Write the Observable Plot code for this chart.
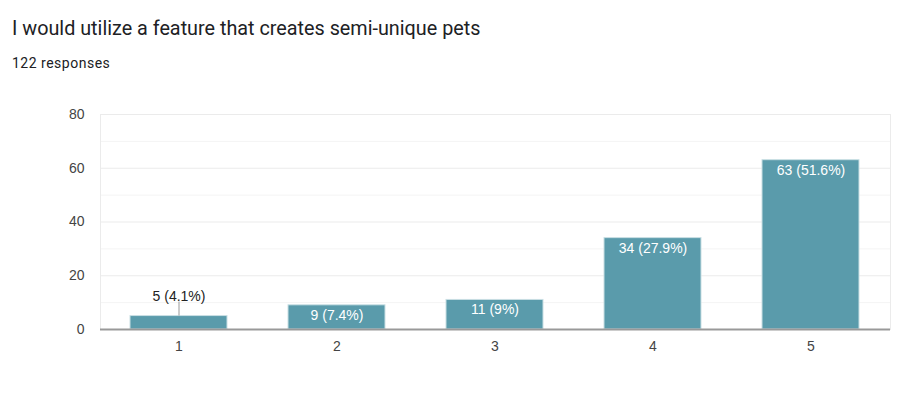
<!DOCTYPE html>
<html><head><meta charset="utf-8">
<script src="https://cdn.jsdelivr.net/npm/d3@7"></script>
<script src="https://cdn.jsdelivr.net/npm/@observablehq/plot@0.6"></script>
<style>
body{margin:0;background:#fff;width:901px;height:393px;position:relative;overflow:hidden}
#title{position:absolute;left:12px;top:17px;font:19.8px Roboto,"Noto Sans",sans-serif;color:#202124;white-space:nowrap}
#sub{position:absolute;left:12px;top:55px;font:14px Roboto,"Noto Sans",sans-serif;letter-spacing:0.5px;color:#202124;white-space:nowrap}
#chart{position:absolute;left:0;top:0}
</style></head><body>
<div id="title">I would utilize a feature that creates semi-unique pets</div>
<div id="sub">122 responses</div>
<div id="chart"></div>
<script>
const categories = ["1","2","3","4","5"];
const counts = [5, 9, 11, 34, 63];
const labels = ["5 (4.1%)", "9 (7.4%)", "11 (9%)", "34 (27.9%)", "63 (51.6%)"];
const majorTicks = [0, 20, 40, 60, 80];
const minorTicks = [10, 30, 50, 70];

const data = categories.map((c, i) => ({cat: c, value: counts[i], label: labels[i]}));
const inside = data.filter(d => d.value >= 8);
const outside = data.filter(d => d.value < 8);

const chart = Plot.plot({
  width: 901, height: 393,
  marginTop: 114, marginBottom: 64, marginLeft: 100, marginRight: 11,
  style: {fontFamily: "'Liberation Sans', Arial, sans-serif", fontSize: "14px", color: "#444", background: "transparent"},
  x: {domain: categories, paddingInner: 0.385, paddingOuter: 0.19, label: null, tickSize: 0, tickPadding: 12},
  y: {domain: [0, 80], ticks: majorTicks, label: null, tickSize: 0, tickPadding: 16},
  marks: [
    Plot.ruleY(minorTicks, {stroke: "#f4f4f4", strokeWidth: 1}),
    Plot.ruleY(majorTicks, {stroke: "#ebebeb", strokeWidth: 1}),
    Plot.frame({stroke: "#ebebeb", strokeWidth: 1}),
    Plot.barY(data, {x: "cat", y: "value", fill: "#5a9bab", stroke: "#c9dfe4", strokeWidth: 1}),
    Plot.ruleY([0], {stroke: "#999", strokeWidth: 2}),
    Plot.text(inside, {x: "cat", y: "value", text: "label", fill: "#fff", dy: 10, fontSize: 14}),
    Plot.ruleX(outside, {x: "cat", y1: "value", y2: "value", insetTop: -14, stroke: "#999", strokeWidth: 1}),
    Plot.text(outside, {x: "cat", y: "value", text: "label", fill: "#222", dy: -20, fontSize: 14})
  ]
});
document.getElementById("chart").appendChild(chart);
</script>
</body></html>
